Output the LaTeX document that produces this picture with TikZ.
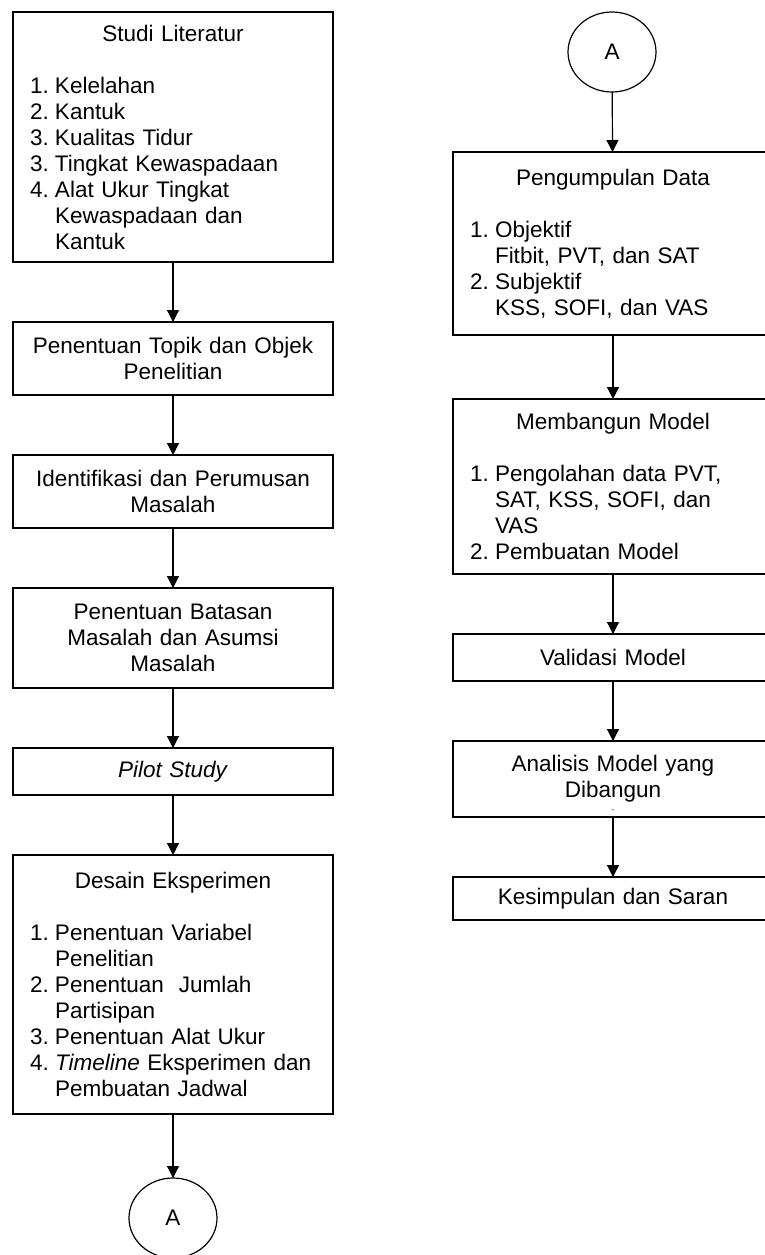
\documentclass[tikz,border=0pt]{standalone}
\usepackage{fontspec}
\setmainfont{Liberation Sans}
\usetikzlibrary{arrows.meta, positioning, shapes.geometric}

\newcommand{\itemno}[1]{\makebox[25pt][l]{#1}}
\newcommand{\contind}{\hspace*{25pt}}
\newcommand{\boxtitle}[1]{\makebox[\linewidth]{#1}\\[26pt]}

\begin{document}
\begin{tikzpicture}[
    x=1pt, y=-1pt,
    node distance=60pt,
    font=\fontsize{22.5}{26}\selectfont,
    box/.style={rectangle, draw, line width=1.4pt, minimum width=320pt, text width=286pt, align=center, inner sep=0pt, outer sep=0pt},
    listbox/.style={box, align=left},
    conn/.style={ellipse, draw, line width=1.2pt, minimum width=88pt, minimum height=80pt, inner sep=0pt, outer sep=0pt},
    arrow/.style={-{Triangle[width=12pt,length=12pt]}, line width=1.2pt}
]
\useasboundingbox (0,0) rectangle (765,1255);

% left column
\node[listbox, minimum height=250pt, anchor=north] (studi) at (173,12) {\boxtitle{Studi Literatur}
\itemno{1.}Kelelahan\\
\itemno{2.}Kantuk\\
\itemno{3.}Kualitas Tidur\\
\itemno{3.}Tingkat Kewaspadaan\\
\itemno{4.}Alat Ukur Tingkat\\
\contind Kewaspadaan dan\\
\contind Kantuk};
\node[box, minimum height=73pt, below=of studi] (topik) {Penentuan Topik dan Objek\\Penelitian};
\node[box, minimum height=73pt, below=of topik] (rumusan) {Identifikasi dan Perumusan\\Masalah};
\node[box, minimum height=100pt, below=of rumusan] (batasan) {Penentuan Batasan\\Masalah dan Asumsi\\Masalah};
\node[box, minimum height=47pt, below=of batasan] (pilot) {\textit{Pilot Study}};
\node[listbox, minimum height=259pt, below=of pilot] (desain) {\boxtitle{Desain Eksperimen}
\itemno{1.}Penentuan Variabel\\
\contind Penelitian\\
\itemno{2.}Penentuan\ \ Jumlah\\
\contind Partisipan\\
\itemno{3.}Penentuan Alat Ukur\\
\itemno{4.}\textit{Timeline} Eksperimen dan\\
\contind Pembuatan Jadwal};
\node[conn, below=64pt of desain] (connA) {A};

% right column
\node[conn, anchor=north] (connB) at (612,12) {A};
\node[listbox, minimum height=183pt, below=of connB, xshift=1pt] (kumpul) {\boxtitle{Pengumpulan Data}
\itemno{1.}Objektif\\
\contind Fitbit, PVT, dan SAT\\
\itemno{2.}Subjektif\\
\contind KSS, SOFI, dan VAS};
\node[listbox, minimum height=175pt, below=64pt of kumpul] (model) {\boxtitle{Membangun Model}
\itemno{1.}Pengolahan data PVT,\\
\contind SAT, KSS, SOFI, dan\\
\contind VAS\\
\itemno{2.}Pembuatan Model};
\node[box, minimum height=47pt, below=of model] (validasi) {Validasi Model};
\node[box, minimum height=76pt, below=of validasi] (analisis) {Analisis Model yang\\Dibangun};
\node[font=\fontsize{8}{8}\selectfont, inner sep=0pt] (dash) at (613,811) {-};
\node[box, minimum height=43pt, below=of analisis] (saran) {Kesimpulan dan Saran};

\draw[arrow] (studi) -- (topik);
\draw[arrow] (topik) -- (rumusan);
\draw[arrow] (rumusan) -- (batasan);
\draw[arrow] (batasan) -- (pilot);
\draw[arrow] (pilot) -- (desain);
\draw[arrow] (desain) -- (connA);
\draw[arrow] (connB) -- (kumpul);
\draw[arrow] (kumpul) -- (model);
\draw[arrow] (model) -- (validasi);
\draw[arrow] (validasi) -- (analisis);
\draw[arrow] (analisis) -- (saran);
\end{tikzpicture}
\end{document}
